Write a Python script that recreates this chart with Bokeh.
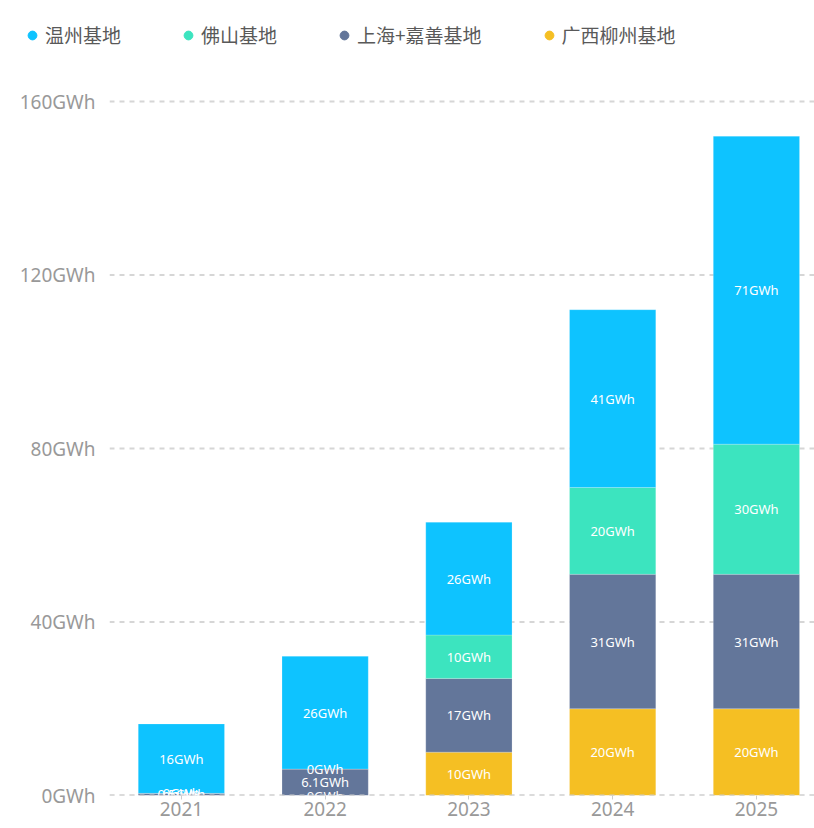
from bokeh.plotting import figure
from bokeh.layouts import column
from bokeh.models import Range1d, FixedTicker, Legend, LegendItem, ColumnDataSource, Span
from bokeh.core.properties import value
from bokeh.embed import file_html
from bokeh.resources import INLINE
import numpy as np

years = ["2021", "2022", "2023", "2024", "2025"]
guangxi = [0, 0, 10, 20, 20]
shanghai = [0.5, 6.1, 17, 31, 31]
foshan = [0, 0, 10, 20, 30]
wenzhou = [16, 26, 26, 41, 71]
series_names = ["广西柳州基地", "上海+嘉善基地", "佛山基地", "温州基地"]
series_values = [guangxi, shanghai, foshan, wenzhou]
colors = ["#F5BF23", "#63769A", "#3CE4BF", "#0EC3FF"]
y_ticks = [0, 40, 80, 120, 160]
legend_order = ["温州基地", "佛山基地", "上海+嘉善基地", "广西柳州基地"]

CJK = "Noto Sans CJK SC"
NUM = "Noto Sans"

xs = list(range(len(years)))
keys = ["s%d" % i for i in range(len(series_names))]
data = {"x": xs}
for k, v in zip(keys, series_values):
    data[k] = v
source = ColumnDataSource(data)

# ---------- legend strip ----------
lf = figure(width=814, height=80, output_backend="svg", toolbar_location=None,
            x_range=Range1d(0, 1), y_range=Range1d(0, 1),
            x_axis_location=None, y_axis_location=None,
            min_border_left=0, min_border_right=0, min_border_top=0, min_border_bottom=0)
lf.frame_align = False
lf.grid.grid_line_color = None
lf.outline_line_color = None

items = []
for name in legend_order:
    c = colors[series_names.index(name)]
    r = lf.scatter(x=[float("nan")], y=[float("nan")], size=9, color=c, marker="circle")
    items.append(LegendItem(label=name, renderers=[r]))

legend = Legend(items=items, orientation="horizontal", location=(21, 32),
                label_text_font=CJK, label_text_font_size="19px",
                label_text_color="#595959", glyph_width=22, glyph_height=22,
                label_standoff=2, spacing=56, border_line_color=None,
                background_fill_alpha=0, padding=0, margin=0)
lf.add_layout(legend)

# ---------- main chart ----------
p = figure(width=814, height=748, output_backend="svg", toolbar_location=None,
           x_range=Range1d(-0.5, 4.404), y_range=Range1d(0, 162.54),
           min_border_left=109, min_border_right=0, min_border_top=10,
           min_border_bottom=33)
p.frame_align = False
p.outline_line_color = None
p.xgrid.grid_line_color = None
p.ygrid.grid_line_color = None

for t in y_ticks:
    p.add_layout(Span(location=t, dimension="width", line_color="#d6d6d6",
                      line_dash="5 5", line_width=2, level="underlay"))

p.vbar_stack(keys, x="x", width=0.6, source=source, color=colors,
             line_color="white", line_alpha=0.4, line_width=0.5)

p.add_layout(Span(location=y_ticks[0], dimension="width", line_color="#cccccc",
                  line_dash="5 5", line_width=2, level="overlay"))

bottoms = np.zeros(len(years))
for vals in series_values:
    arr = np.array(vals, dtype=float)
    mids = bottoms + arr / 2.0
    texts = [("%g" % v) + "GWh" for v in arr]
    p.text(x=xs, y=list(mids), text=texts, text_color="white",
           text_font=value(NUM), text_font_size="13px",
           text_align="center", text_baseline="middle")
    bottoms = bottoms + arr

p.yaxis.ticker = FixedTicker(ticks=y_ticks)
p.yaxis.major_label_overrides = {t: "%dGWh" % t for t in y_ticks}
p.yaxis.axis_line_color = None
p.yaxis.major_tick_line_color = None
p.yaxis.minor_tick_line_color = None
p.yaxis.major_label_text_font = NUM
p.yaxis.major_label_text_font_size = "19px"
p.yaxis.major_label_text_color = "#999999"
p.yaxis.major_label_standoff = 8

p.xaxis.ticker = FixedTicker(ticks=xs)
p.xaxis.major_label_overrides = {i: y for i, y in enumerate(years)}
p.xaxis.axis_line_color = None
p.xaxis.major_tick_line_color = "#cccccc"
p.xaxis.major_tick_out = 4
p.xaxis.major_tick_in = 0
p.xaxis.minor_tick_line_color = None
p.xaxis.major_label_text_font = NUM
p.xaxis.major_label_text_font_size = "19px"
p.xaxis.major_label_text_color = "#999999"
p.xaxis.major_label_standoff = 2

layout = column(lf, p, spacing=0)
open("out.html", "w").write(file_html(layout, INLINE))
